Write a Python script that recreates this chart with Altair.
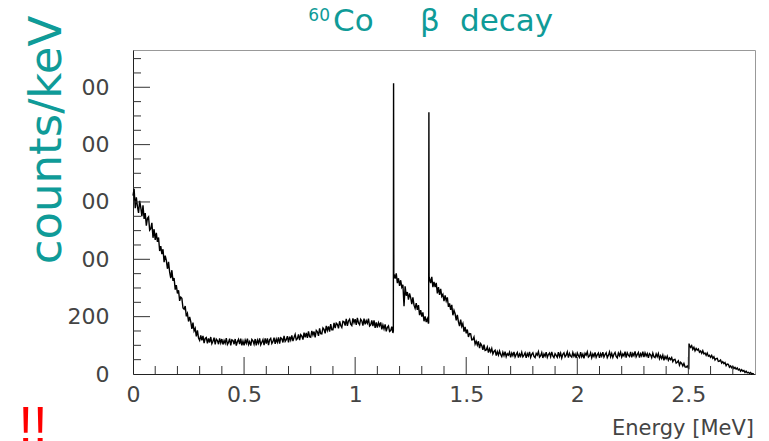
import altair as alt
import pandas as pd

# --- spectrum (5 keV grid, 0.000 .. 2.795 MeV) ---
grid_energy = [round(i * 0.005, 3) for i in range(560)]
grid_counts = [
    # 0.00
    622, 646, 578, 616, 584, 562, 604, 581, 550, 588, 541, 561, 517, 543, 548, 502, 507, 527, 475, 505,
    # 0.10
    468, 492, 461, 476, 429, 446, 418, 435, 390, 413, 396, 367, 391, 355, 334, 362, 325, 335, 294, 310,
    # 0.20
    281, 292, 255, 268, 264, 230, 226, 237, 201, 211, 183, 199, 183, 157, 179, 150, 159, 131, 152, 125,
    # 0.30
    117, 135, 117, 133, 108, 124, 127, 107, 124, 110, 129, 106, 114, 127, 103, 122, 117, 104, 124, 108,
    # 0.40
    122, 103, 117, 107, 125, 103, 110, 123, 100, 119, 117, 104, 122, 99, 113, 121, 104, 123, 100, 115,
    # 0.50
    100, 118, 107, 123, 103, 113, 99, 121, 116, 104, 122, 100, 118, 107, 124, 102, 111, 120, 101, 124,
    # 0.60
    106, 124, 101, 119, 124, 106, 113, 127, 105, 122, 111, 128, 106, 126, 123, 110, 133, 114, 120, 132,
    # 0.70
    110, 130, 118, 135, 115, 127, 138, 119, 123, 138, 118, 137, 132, 120, 144, 128, 143, 126, 149, 130,
    # 0.80
    128, 150, 136, 148, 128, 152, 147, 133, 159, 141, 140, 161, 156, 142, 168, 152, 166, 148, 174, 154,
    # 0.90
    154, 178, 160, 177, 173, 159, 184, 169, 162, 184, 182, 169, 192, 168, 185, 191, 174, 169, 194, 179,
    # 1.00
    191, 171, 196, 178, 172, 191, 185, 169, 193, 173, 186, 177, 193, 167, 171, 187, 167, 187, 161, 180,
    # 1.10
    162, 179, 168, 180, 156, 171, 157, 173, 149, 163, 168, 148, 151, 165, 143, 348, 333, 351, 317, 334,
    # 1.20
    307, 327, 303, 311, 236, 306, 273, 286, 259, 281, 266, 244, 267, 240, 229, 247, 224, 240, 205, 223,
    # 1.30
    200, 215, 184, 201, 181, 193, 176, 333, 317, 339, 303, 321, 303, 318, 281, 303, 276, 297, 271, 278,
    # 1.40
    254, 274, 255, 267, 234, 246, 224, 241, 205, 222, 210, 187, 206, 182, 167, 190, 166, 176, 148, 164,
    # 1.50
    142, 155, 129, 141, 140, 119, 120, 129, 104, 114, 101, 114, 90, 106, 99, 84, 102, 82, 84, 94,
    # 1.60
    75, 88, 77, 89, 70, 79, 83, 64, 78, 66, 80, 68, 61, 76, 64, 78, 60, 71, 66, 76,
    # 1.70
    58, 73, 64, 77, 59, 68, 75, 57, 70, 62, 76, 60, 66, 74, 56, 71, 63, 77, 58, 69,
    # 1.80
    74, 61, 57, 72, 66, 78, 59, 64, 75, 56, 70, 62, 76, 58, 68, 73, 60, 77, 63, 57,
    # 1.90
    71, 65, 58, 76, 61, 73, 56, 69, 74, 60, 66, 77, 57, 72, 63, 59, 75, 62, 70, 56,
    # 2.00
    73, 64, 58, 76, 60, 69, 55, 72, 66, 77, 59, 63, 74, 57, 70, 61, 75, 58, 67, 73,
    # 2.10
    56, 71, 62, 76, 59, 68, 74, 57, 65, 77, 60, 72, 58, 69, 75, 61, 56, 73, 64, 76,
    # 2.20
    59, 70, 63, 78, 57, 74, 66, 61, 77, 58, 72, 64, 79, 60, 68, 75, 57, 71, 63, 78,
    # 2.30
    59, 74, 63, 71, 56, 71, 67, 57, 73, 60, 57, 70, 60, 71, 53, 64, 54, 66, 48, 61,
    # 2.40
    53, 62, 48, 56, 50, 57, 43, 50, 51, 38, 41, 46, 31, 41, 37, 28, 37, 25, 24, 28,
    # 2.50
    21, 100, 93, 99, 86, 93, 81, 89, 83, 87, 76, 80, 72, 81, 70, 73, 65, 73, 62, 65,
    # 2.60
    58, 65, 55, 60, 49, 54, 55, 44, 45, 49, 38, 43, 36, 40, 29, 35, 34, 24, 28, 22,
    # 2.70
    27, 19, 23, 17, 21, 14, 17, 10, 15, 10, 12, 5, 10, 4, 6, 2, 5, 0, 2, 0,
]

# photopeaks (1.173, 1.332 MeV) and sum edge (~2.505 MeV)
peak_energy = [1.172, 1.173, 1.174, 1.331, 1.332, 1.333, 2.502, 2.503]
peak_counts = [150, 1014, 345, 180, 913, 330, 20, 106]

x_label_values = [0, 0.5, 1, 1.5, 2, 2.5]
y_label_values = [0, 200, 400, 600, 800, 1000]
x_major_ticks = [0.5, 1.0, 1.5, 2.0, 2.5]
x_minor_ticks = [0.1, 0.2, 0.3, 0.4, 0.6, 0.7, 0.8, 0.9, 1.1, 1.2, 1.3, 1.4,
                 1.6, 1.7, 1.8, 1.9, 2.1, 2.2, 2.3, 2.4, 2.6, 2.7]
y_major_ticks = [200, 400, 600, 800, 1000]
y_minor_ticks = [50, 100, 150, 250, 300, 350, 450, 500, 550, 650, 700, 750,
                 850, 900, 950, 1050, 1100]

df = pd.DataFrame({"energy": grid_energy + peak_energy,
                   "counts": grid_counts + peak_counts}).sort_values("energy")

W, H = 622, 324
TEAL = "#0f9b98"
xs = alt.Scale(domain=[0, 2.8], nice=False, zero=False)
ys = alt.Scale(domain=[0, 1130], nice=False)

xaxis = alt.Axis(values=x_label_values, format="~g", tickSize=0,
                 labelPadding=10, labelFontSize=22, labelColor="#444",
                 labelFont="DejaVu Sans", labelFlush=False,
                 labelOverlap=False, title=None, grid=False,
                 domainColor="#222")
yaxis = alt.Axis(values=y_label_values,
                 labelExpr="datum.value >= 400 ? '00' : datum.label",
                 tickSize=0, labelPadding=24, labelFontSize=22,
                 labelColor="#444", labelFont="DejaVu Sans",
                 labelOverlap=False, title=None, grid=False,
                 domainColor="#222")

line = alt.Chart(df).mark_line(color="black", strokeWidth=1.4).encode(
    x=alt.X("energy:Q", scale=xs, axis=xaxis),
    y=alt.Y("counts:Q", scale=ys, axis=yaxis),
)


def xticks(vals, length):
    return alt.Chart(pd.DataFrame({"v": vals})).mark_rule(color="#333").encode(
        x=alt.X("v:Q", scale=xs, axis=xaxis),
        y=alt.value(H), y2=alt.value(H - length))


def yticks(vals, length):
    return alt.Chart(pd.DataFrame({"v": vals})).mark_rule(color="#333").encode(
        y=alt.Y("v:Q", scale=ys, axis=yaxis),
        x=alt.value(0), x2=alt.value(length))


def label(text, x, y, **kw):
    return alt.Chart(pd.DataFrame({"t": [text]})).mark_text(**kw).encode(
        text="t:N", x=alt.value(x), y=alt.value(y))


title_kw = dict(align="left", baseline="alphabetic", font="DejaVu Sans",
                fontSize=31, color=TEAL)
title_sup = label("60", 197, -29, align="right", baseline="alphabetic",
                  font="DejaVu Sans", fontSize=17, color=TEAL)
title_co = label("Co", 200, -19, **title_kw)
title_beta = label("β", 287, -19, **title_kw)
title_decay = label("decay", 327, -19, **title_kw)
ytitle = label("counts/keV", -72, 90, align="center", baseline="alphabetic",
               angle=270, font="DejaVu Sans", fontSize=45, color=TEAL)
xtitle = label("Energy [MeV]", 621, 385, align="right", baseline="alphabetic",
               font="DejaVu Sans", fontSize=21, color="#444")
bangs = label("!!", -100, 393, align="center", baseline="alphabetic",
              font="Liberation Sans", fontSize=52, color="#ff0000")

chart = alt.layer(
    line,
    xticks(x_major_ticks, 17), xticks(x_minor_ticks, 8),
    yticks(y_major_ticks, 17), yticks(y_minor_ticks, 8),
    title_sup, title_co, title_beta, title_decay, ytitle, xtitle, bangs,
).properties(
    width=W, height=H,
    autosize=alt.AutoSizeParams(type="none"),
    padding={"left": 125, "top": 42, "right": 2, "bottom": 67},
    background="white",
).configure_view(stroke="#999", strokeWidth=1)

chart.save("out.html", embed_options={"renderer": "svg", "actions": False})
